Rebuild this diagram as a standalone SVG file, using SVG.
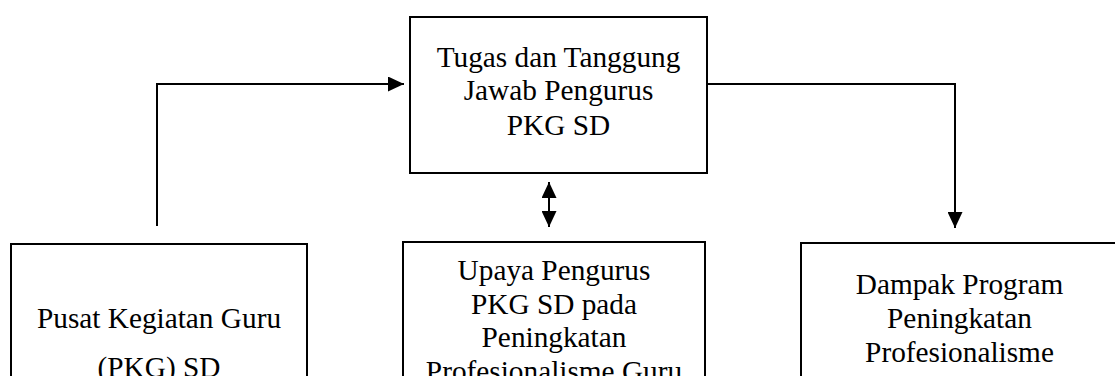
<svg xmlns="http://www.w3.org/2000/svg" width="1115" height="376" viewBox="0 0 1115 376">
<style>
.box{fill:#fff;stroke:#000;stroke-width:2}
.lbl{font-size:29.3px;fill:#000;text-anchor:middle}
.conn{fill:none;stroke:#000;stroke-width:2}
</style>
<defs>
<marker id="ah" viewBox="0 0 16 15" refX="16" refY="7.5" markerWidth="16" markerHeight="15" markerUnits="userSpaceOnUse" orient="auto-start-reverse">
<path d="M0,0 L16,7.5 L0,15 z" fill="#000"/>
</marker>
</defs>
<rect width="1115" height="376" fill="#fff"/>
<g id="connectors">
<path class="conn" d="M157,226 V84 H404" marker-end="url(#ah)"/>
<path class="conn" d="M708,84 H955 V228" marker-end="url(#ah)"/>
<path class="conn" d="M549,182 V227" marker-start="url(#ah)" marker-end="url(#ah)"/>
</g>
<g font-family="'Liberation Serif', 'Times New Roman', Times, serif">
<g id="node-tugas">
<rect class="box" x="410" y="17" width="297" height="156"/>
<text class="lbl" x="558.5" y="67">Tugas dan Tanggung</text>
<text class="lbl" x="558.5" y="100">Jawab Pengurus</text>
<text class="lbl" x="558.5" y="134.5">PKG SD</text>
</g>
<g id="node-pusat">
<rect class="box" x="11" y="244" width="296" height="160"/>
<text class="lbl" x="159" y="328">Pusat Kegiatan Guru</text>
<text class="lbl" x="159" y="377">(PKG) SD</text>
</g>
<g id="node-upaya">
<rect class="box" x="403" y="242" width="302" height="160"/>
<text class="lbl" x="554" y="280">Upaya Pengurus</text>
<text class="lbl" x="554" y="313.5">PKG SD pada</text>
<text class="lbl" x="554" y="347">Peningkatan</text>
<text class="lbl" x="554" y="381">Profesionalisme Guru</text>
</g>
<g id="node-dampak">
<rect class="box" x="801" y="243" width="318" height="160"/>
<text class="lbl" x="959.5" y="293.5">Dampak Program</text>
<text class="lbl" x="959.5" y="327.5">Peningkatan</text>
<text class="lbl" x="959.5" y="361.5">Profesionalisme</text>
</g>
</g>
</svg>
